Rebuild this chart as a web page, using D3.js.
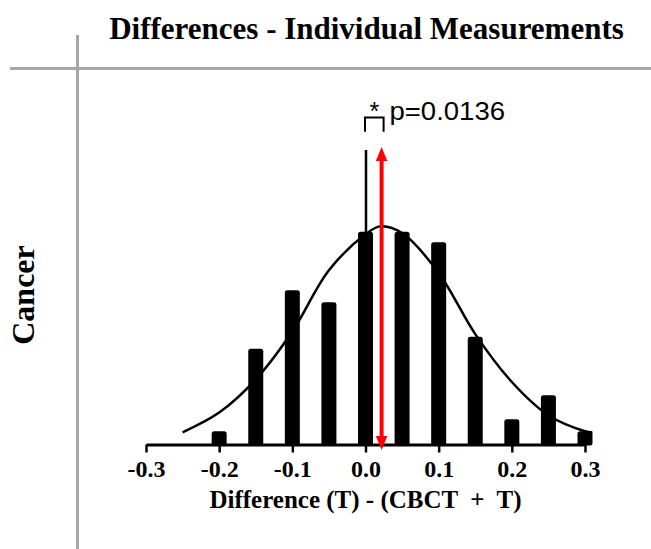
<!DOCTYPE html>
<html>
<head>
<meta charset="utf-8">
<script src="https://cdn.jsdelivr.net/npm/d3@7"></script>
<style>
  html, body { margin: 0; padding: 0; background: #ffffff; }
  svg { display: block; }
</style>
</head>
<body>
<svg id="chart" width="651" height="549"></svg>
<script>
// ---- data ----
const binCenters = [-0.2, -0.15, -0.1, -0.05, 0.0, 0.05, 0.1, 0.15, 0.2, 0.25, 0.3];
const binCounts  = [1.0, 7.2, 11.6, 10.7, 16.0, 16.0, 15.2, 8.1, 1.9, 3.7, 1.0];
const curveX     = [-0.25, -0.2, -0.15, -0.1, -0.05, 0.0, 0.02, 0.05, 0.1, 0.15, 0.2, 0.25, 0.3, 0.31];
const curveY     = [0.92, 2.4, 4.9, 8.5, 13.1, 15.8, 16.4, 15.9, 12.9, 8.3, 4.7, 2.2, 1.0, 0.9];
const tickValues = [-0.3, -0.2, -0.1, 0.0, 0.1, 0.2, 0.3];
const tickLabels = ["-0.3", "-0.2", "-0.1", "0.0", "0.1", "0.2", "0.3"];
const zeroLineX  = 0.0;
const meanDiff   = 0.022;
const pLabel     = "p=0.0136";
const starLabel  = "*";
const titleText  = "Differences - Individual Measurements";
const rowLabel   = "Cancer";
const xTitle     = "Difference (T) - (CBCT  +  T)";

// ---- layout ----
const svg = d3.select("#chart");
const serif = "'Liberation Serif', 'Times New Roman', serif";
const sans = "'Liberation Sans', Arial, sans-serif";
const axisY = 444.5;

const x = d3.scaleLinear().domain([-0.3, 0.3]).range([146, 585]);
const y = d3.scaleLinear().domain([0, 16]).range([axisY, axisY - 16 * 13.3]);

// grey frame lines
svg.append("line").attr("x1", 10).attr("x2", 651).attr("y1", 68.5).attr("y2", 68.5)
  .attr("stroke", "#a6a6a6").attr("stroke-width", 3);
svg.append("line").attr("x1", 77.5).attr("x2", 77.5).attr("y1", 35).attr("y2", 549)
  .attr("stroke", "#a6a6a6").attr("stroke-width", 3);

// title
svg.append("text").attr("x", 366.5).attr("y", 38.5)
  .attr("text-anchor", "middle")
  .attr("font-family", serif).attr("font-weight", "bold").attr("font-size", 31)
  .text(titleText);

// row label
svg.append("text").attr("transform", "translate(34,295) rotate(-90)")
  .attr("text-anchor", "middle")
  .attr("font-family", serif).attr("font-weight", "bold").attr("font-size", 32)
  .text(rowLabel);

// zero reference line
svg.append("line").attr("x1", x(zeroLineX) + 0.5).attr("x2", x(zeroLineX) + 0.5)
  .attr("y1", 150).attr("y2", axisY)
  .attr("stroke", "#000").attr("stroke-width", 2.5);

// bars
const barW = 15;
svg.append("g").selectAll("rect").data(binCenters).join("rect")
  .attr("x", (d) => x(d) - barW / 2)
  .attr("y", (d, i) => y(binCounts[i]))
  .attr("width", barW)
  .attr("height", (d, i) => axisY - y(binCounts[i]) + 1)
  .attr("rx", 2.5)
  .attr("fill", "#000");

// fitted curve
const pts = curveX.map((v, i) => [v, curveY[i]]);
svg.append("path").datum(pts)
  .attr("d", d3.line().x((d) => x(d[0])).y((d) => y(d[1])).curve(d3.curveCatmullRom))
  .attr("fill", "none").attr("stroke", "#000").attr("stroke-width", 2.5);

// x axis
const axis = d3.axisBottom(x).tickValues(tickValues).tickSize(8).tickSizeOuter(0)
  .tickFormat((d, i) => tickLabels[i]);
const gA = svg.append("g").attr("transform", `translate(0,${axisY})`).call(axis);
gA.select(".domain").attr("stroke", "#000").attr("stroke-width", 3);
gA.selectAll(".tick line").attr("stroke", "#000").attr("stroke-width", 2.5);
gA.selectAll(".tick text")
  .attr("y", 32).attr("dy", 0)
  .attr("font-family", serif).attr("font-weight", "bold").attr("font-size", 24)
  .attr("fill", "#000");

// axis title
svg.append("text").attr("x", 365.5).attr("y", 507.5)
  .attr("text-anchor", "middle").style("white-space", "pre")
  .attr("font-family", serif).attr("font-weight", "bold").attr("font-size", 25)
  .text(xTitle);

// red double arrow at mean difference
const ax = x(meanDiff);
const topTip = 147, botTip = 450, headH = 14, headW = 11.5;
svg.append("line").attr("x1", ax).attr("x2", ax)
  .attr("y1", topTip + headH - 1).attr("y2", botTip - headH + 1)
  .attr("stroke", "#ff0000").attr("stroke-width", 4);
svg.append("path")
  .attr("d", `M${ax},${topTip} L${ax - headW / 2},${topTip + headH} L${ax + headW / 2},${topTip + headH} Z`)
  .attr("fill", "#ff0000");
svg.append("path")
  .attr("d", `M${ax},${botTip} L${ax - headW / 2},${botTip - headH} L${ax + headW / 2},${botTip - headH} Z`)
  .attr("fill", "#ff0000");

// significance bracket
const bx1 = x(zeroLineX) - 0.5, bx2 = ax + 2;
svg.append("path")
  .attr("d", `M${bx1},131.7 L${bx1},117.5 L${bx2},117.5 L${bx2},131.7`)
  .attr("fill", "none").attr("stroke", "#000").attr("stroke-width", 2);
svg.append("text").attr("x", (bx1 + bx2) / 2).attr("y", 120)
  .attr("text-anchor", "middle")
  .attr("font-family", sans).attr("font-size", 25)
  .text(starLabel);
svg.append("text").attr("x", 389.5).attr("y", 120)
  .attr("font-family", sans).attr("font-size", 25)
  .attr("textLength", 115.5).attr("lengthAdjust", "spacingAndGlyphs")
  .text(pLabel);
</script>
</body>
</html>
